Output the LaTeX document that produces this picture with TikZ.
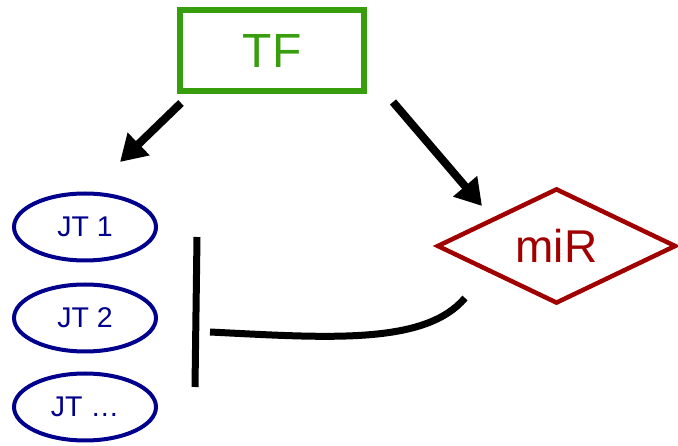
\documentclass[tikz,border=0pt]{standalone}
\usepackage{fontspec}
\setmainfont{Liberation Sans}
\usetikzlibrary{shapes.geometric,arrows.meta}

\definecolor{tfgreen}{RGB}{56,158,14}
\definecolor{jtblue}{RGB}{0,0,140}
\definecolor{mirred}{RGB}{160,0,0}

\tikzset{
  target/.style={ellipse, draw=jtblue, text=jtblue, line width=4pt,
    minimum width=142pt, minimum height=67pt, inner sep=0pt,
    font=\fontsize{28.5}{28.5}\selectfont},
  activ/.style={line width=8pt, -{Triangle[length=26pt,width=30pt]}},
  repress/.style={line width=7pt}
}

\begin{document}
\begin{tikzpicture}[x=1pt,y=-1pt]
        \useasboundingbox (0,0) rectangle (678,446);

        % Transcription factor and microRNA
        \node[draw=tfgreen, text=tfgreen, line width=5.5pt, minimum width=184pt,
              minimum height=81pt, font=\fontsize{48}{48}\selectfont] (tf) at (272,50.5) {TF};
        \node[diamond, draw=mirred, text=mirred, line width=4.5pt, minimum width=239pt,
              minimum height=108pt, inner sep=0pt, font=\fontsize{46}{46}\selectfont] (mir) at (556.5,246) {miR};

        % Target genes
        \node[target] (jt1) at (85,227) {JT 1};
        \node[target] (jt2) at (85,318) {JT 2};
        \node[target] (jt3) at (85,407) {JT …};

        % Free ends of the connectors
        \coordinate (tfl) at (181,103);
        \coordinate (jtin) at (120,162);
        \coordinate (tfr) at (393,102);
        \coordinate (mirin) at (482,206);
        \coordinate (mirout) at (465,298);
        \coordinate (bartop) at (197,237);
        \coordinate (barbot) at (195,387);
        \coordinate (barin) at (210,332);

        % Activation arrows
        \draw[activ] (tfl) -- (jtin);
        \draw[activ] (tfr) -- (mirin);

        % Repression of the targets
        \draw[repress] (mirout) .. controls (425,345) and (330,338) .. (barin);
        \draw[repress] (bartop) -- (barbot);
\end{tikzpicture}
\end{document}
